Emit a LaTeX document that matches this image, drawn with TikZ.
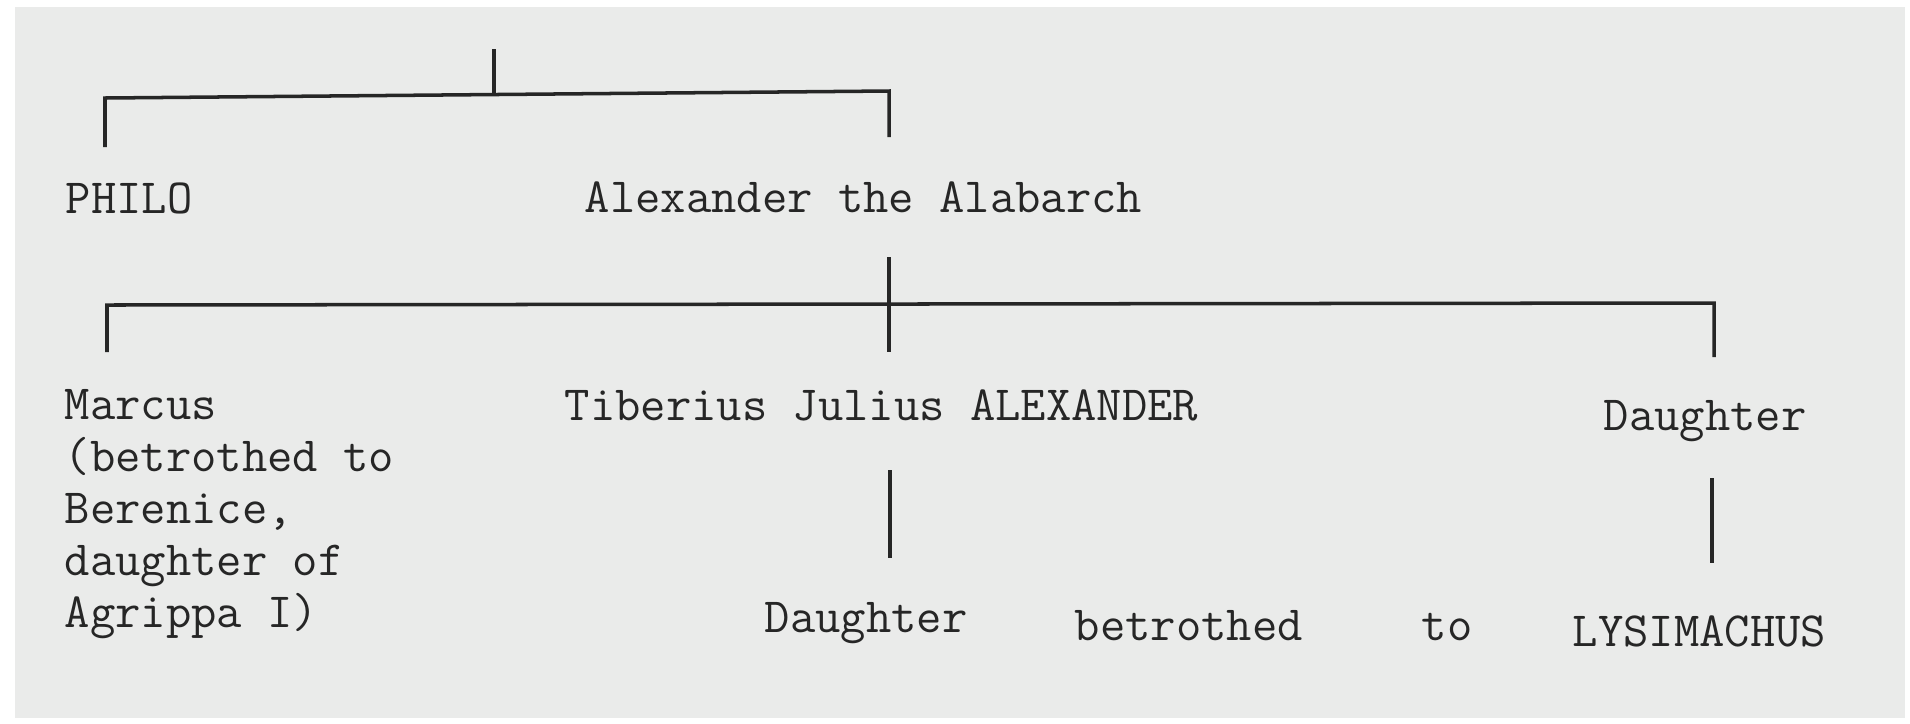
\documentclass[tikz,border=0pt]{standalone}
\usepackage{tikz}
\definecolor{paper}{HTML}{EAEBEA}
\definecolor{ink}{HTML}{262626}

\begin{document}
\begin{tikzpicture}[x=0.1mm, y=-0.1mm, line width=1pt, draw=ink,
  person/.style={anchor=base west, inner sep=0, text=ink,
    font=\fontsize{14pt}{14.74pt}\selectfont\ttfamily}]
\useasboundingbox (0,0) rectangle (1910,723);
\fill[white] (0,0) rectangle (1910,723);
\fill[paper] (15,7) rectangle (1905,718);

% generation 1
\node[person] (philo) at (64,213) {PHILO};
\node[person] (alabarch) at (583,212) {Alexander the Alabarch};
\coordinate (root) at (494,49);
\coordinate (lA) at (105,98);
\coordinate (rA) at (889,91);
\draw (root) -- (494,96);
\draw (105,147) -- (lA) -- (rA) -- (889,137);

% generation 2 (base of a multi-line node = its last line)
\node[person, align=left] (marcus) at (63,627) {Marcus\\(betrothed to\\Berenice,\\daughter of\\Agrippa I)};
\node[person] (tiberius) at (563,420) {Tiberius Julius ALEXANDER};
\node[person] (daughterR) at (1602,430) {Daughter};
\coordinate (lB) at (107,305);
\coordinate (rB) at (1714,303);
\draw (889,257) -- (889,352);
\draw (107,352) -- (lB) -- (rB) -- (1714,357);

% generation 3
\node[person] (daughterT) at (763,632) {Daughter};
\node[person] (betrothed) at (1073,640) {betrothed};
\node[person] (to) at (1420,640) {to};
\node[person] (lysimachus) at (1571,646) {LYSIMACHUS};
\draw (890,470) -- (890,558);
\draw (1712,478) -- (1712,563);
\end{tikzpicture}
\end{document}
